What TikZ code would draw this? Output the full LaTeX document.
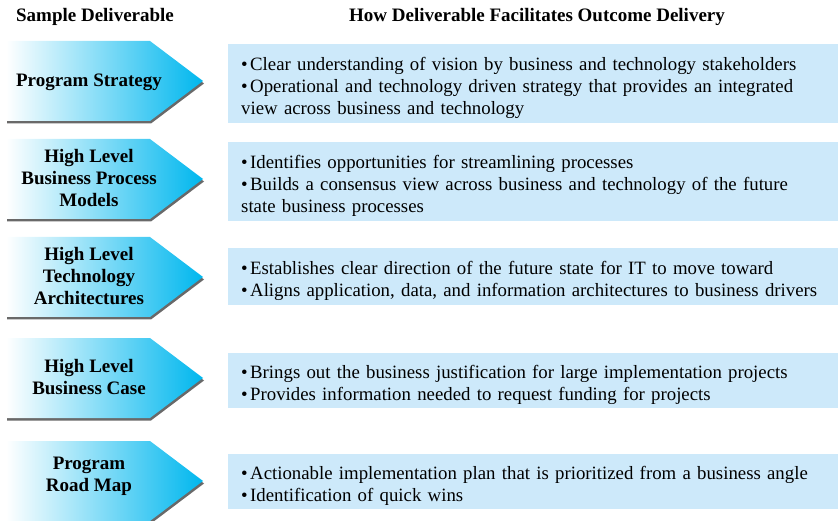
\documentclass[tikz,border=0pt]{standalone}
\usepackage{fontspec}
\setmainfont{Liberation Serif}
\definecolor{boxblue}{RGB}{205,233,250}
\definecolor{arrowblue}{RGB}{0,183,238}
\definecolor{shadowgray}{RGB}{105,105,105}
\newcommand{\itm}{\par\noindent\hangindent=9pt\hangafter=1\makebox[9pt][l]{\textbullet}}

\begin{document}
\begin{tikzpicture}[
  x=1pt, y=-1pt,
  head/.style={font=\bfseries\fontsize{19}{22}\selectfont},
  deliv/.style={align=center, font=\bfseries\fontsize{19}{22}\selectfont},
  outcome/.style={anchor=north west, fill=boxblue, minimum width=610pt,
    text width=584pt, inner xsep=13pt, inner ysep=0pt, align=left,
    font=\fontsize{18.8}{22}\selectfont}
]
\useasboundingbox (0,0) rectangle (838,521);

% arrows
\foreach \t in {41,139,237,338,441} {
  \fill[shadowgray] (7,\t+2.5) -- ++(144,0) -- ++(53,40) -- ++(-53,40) -- ++(-144,0) -- cycle;
  \shade[left color=white, right color=arrowblue] (6,\t) -- ++(144,0) -- ++(53,40) -- ++(-53,40) -- ++(-144,0) -- cycle;
}

% headers
\node[head] (hleft) at (95,17) {Sample Deliverable};
\node[head] (hright) at (537,17) {How Deliverable Facilitates Outcome Delivery};

% deliverables
\node[deliv] (strat) at (89,82) {Program Strategy};
\node[deliv] (proc) at (89,178) {High Level\\Business Process\\Models};
\node[deliv] (tech) at (89,276) {High Level\\Technology\\Architectures};
\node[deliv] (case) at (89,377) {High Level\\Business Case};
\node[deliv] (road) at (89,476) {Program\\Road Map};

% outcomes
\node[outcome, minimum height=79pt] (ostrat) at (228,44) {%
  \itm Clear understanding of vision by business and technology stakeholders
  \itm Operational and technology driven strategy that provides an integrated view across business and technology};
\node[outcome, minimum height=79pt] (oproc) at (228,142) {%
  \itm Identifies opportunities for streamlining processes
  \itm Builds a consensus view across business and technology of the future state business processes};
\node[outcome, minimum height=57pt] (otech) at (228,248) {%
  \itm Establishes clear direction of the future state for IT to move toward
  \itm Aligns application, data, and information architectures to business drivers};
\node[outcome, minimum height=55pt] (ocase) at (228,353) {%
  \itm Brings out the business justification for large implementation projects
  \itm Provides information needed to request funding for projects};
\node[outcome, minimum height=55pt] (oroad) at (228,454) {%
  \itm Actionable implementation plan that is prioritized from a business angle
  \itm Identification of quick wins};
\end{tikzpicture}
\end{document}
